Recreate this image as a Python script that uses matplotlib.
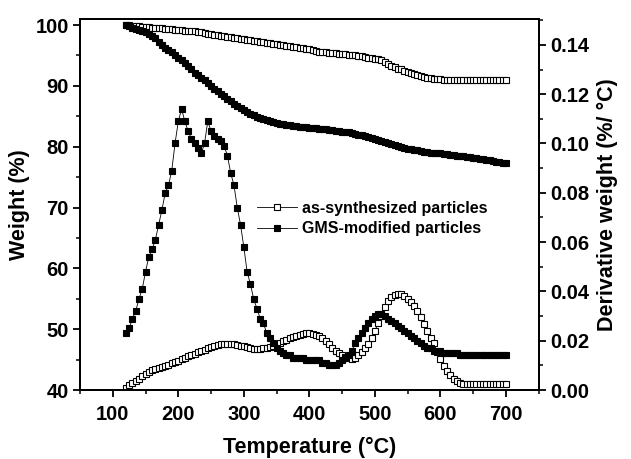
import numpy as np
import matplotlib.pyplot as plt
from matplotlib.lines import Line2D
from matplotlib.ticker import MultipleLocator

plt.rcParams['font.family'] = ['Liberation Sans', 'DejaVu Sans']
plt.rcParams['font.weight'] = 'bold'

# temperature grid (C), one point every 5 C
temps = np.arange(120, 701, 5)

# weight (%) - as-synthesized particles
tga_as = [
    100.0, 99.95, 99.9, 99.85, 99.8, 99.75, 99.7, 99.65, 99.6, 99.55,   # 120-165
    99.5, 99.45, 99.4, 99.35, 99.3, 99.25, 99.2, 99.15, 99.1, 99.05,    # 170-215
    99.0, 98.95, 98.9, 98.8, 98.7, 98.6, 98.5, 98.45, 98.35, 98.25,     # 220-265
    98.2, 98.1, 98.0, 97.9, 97.85, 97.75, 97.65, 97.6, 97.5, 97.4,      # 270-315
    97.35, 97.25, 97.2, 97.1, 97.0, 96.95, 96.85, 96.75, 96.7, 96.6,    # 320-365
    96.5, 96.45, 96.35, 96.3, 96.2, 96.1, 96.0, 95.9, 95.75, 95.65,     # 370-415
    95.55, 95.5, 95.45, 95.4, 95.35, 95.3, 95.25, 95.2, 95.15, 95.1,    # 420-465
    95.0, 94.95, 94.85, 94.75, 94.65, 94.55, 94.45, 94.35, 94.2, 93.9,  # 470-515
    93.6, 93.3, 93.05, 92.85, 92.7, 92.5, 92.3, 92.1, 91.95, 91.75,     # 520-565
    91.6, 91.45, 91.35, 91.25, 91.2, 91.15, 91.1, 91.05, 91.0, 91.0,    # 570-615
    91.0, 91.0, 90.95, 90.95, 90.95, 90.95, 90.95, 90.9, 90.9, 90.9,    # 620-665
    90.9, 90.9, 90.9, 90.9, 90.9, 90.9, 90.9,                           # 670-700
]

# weight (%) - GMS-modified particles
tga_gms = [
    100.0, 99.8, 99.6, 99.4, 99.2, 99.0, 98.8, 98.55, 98.2, 97.8,       # 120-165
    97.3, 96.8, 96.3, 95.9, 95.5, 95.05, 94.6, 94.2, 93.7, 93.2,        # 170-215
    92.7, 92.2, 91.8, 91.35, 90.9, 90.4, 90.0, 89.55, 89.1, 88.7,       # 220-265
    88.3, 87.9, 87.5, 87.1, 86.7, 86.3, 86.0, 85.7, 85.4, 85.15,        # 270-315
    84.9, 84.7, 84.5, 84.35, 84.2, 84.05, 83.9, 83.8, 83.7, 83.6,       # 320-365
    83.5, 83.45, 83.4, 83.3, 83.25, 83.2, 83.15, 83.1, 83.0, 82.95,     # 370-415
    82.9, 82.85, 82.8, 82.7, 82.65, 82.6, 82.5, 82.45, 82.35, 82.25,    # 420-465
    82.15, 82.0, 81.85, 81.7, 81.55, 81.4, 81.25, 81.1, 80.95, 80.8,    # 470-515
    80.6, 80.45, 80.3, 80.15, 80.0, 79.85, 79.7, 79.6, 79.5, 79.4,      # 520-565
    79.3, 79.2, 79.1, 79.05, 79.0, 78.95, 78.9, 78.8, 78.75, 78.65,     # 570-615
    78.6, 78.5, 78.45, 78.4, 78.3, 78.25, 78.2, 78.1, 78.0, 77.95,      # 620-665
    77.85, 77.75, 77.65, 77.55, 77.45, 77.4, 77.3,                      # 670-700
]

# derivative weight (%/C) - as-synthesized particles
dtg_as = [
    0.001, 0.002, 0.003, 0.0035, 0.0045, 0.0055, 0.0065, 0.0072, 0.008, 0.0085,     # 120-165
    0.009, 0.0093, 0.0098, 0.0103, 0.0108, 0.0113, 0.0118, 0.0124, 0.013, 0.0136,  # 170-215
    0.0142, 0.0148, 0.0153, 0.0159, 0.0164, 0.0169, 0.0175, 0.018, 0.0183, 0.0185, # 220-265
    0.0186, 0.0187, 0.0187, 0.0186, 0.0184, 0.018, 0.0177, 0.0173, 0.017, 0.0168,  # 270-315
    0.0168, 0.0168, 0.017, 0.0172, 0.0175, 0.018, 0.0186, 0.0192, 0.0198, 0.0204,  # 320-365
    0.021, 0.0215, 0.022, 0.0225, 0.0228, 0.023, 0.023, 0.0228, 0.0224, 0.0218,    # 370-415
    0.021, 0.0198, 0.0185, 0.0172, 0.016, 0.015, 0.014, 0.0133, 0.0128, 0.0127,    # 420-465
    0.013, 0.014, 0.0155, 0.0172, 0.0185, 0.021, 0.024, 0.027, 0.030, 0.0335,      # 470-515
    0.036, 0.0378, 0.0387, 0.039, 0.0389, 0.0382, 0.0371, 0.0357, 0.034, 0.032,    # 520-565
    0.0295, 0.0268, 0.024, 0.0212, 0.019, 0.0155, 0.0125, 0.0098, 0.0077, 0.006,   # 570-615
    0.0045, 0.0036, 0.003, 0.0026, 0.0024, 0.0024, 0.0024, 0.0024, 0.0023, 0.0023, # 620-665
    0.0023, 0.0023, 0.0023, 0.0023, 0.0023, 0.0023, 0.0023,                        # 670-700
]

# derivative weight (%/C) - GMS-modified particles
dtg_gms = [
    0.023, 0.025, 0.029, 0.032, 0.037, 0.041, 0.048, 0.054, 0.057, 0.061,  # 120-165
    0.067, 0.073, 0.080, 0.083, 0.089, 0.100, 0.109, 0.114, 0.109, 0.105,  # 170-215
    0.102, 0.100, 0.098, 0.096, 0.100, 0.109, 0.105, 0.103, 0.102, 0.101,  # 220-265
    0.099, 0.095, 0.088, 0.083, 0.074, 0.067, 0.058, 0.048, 0.043, 0.037,  # 270-315
    0.033, 0.029, 0.027, 0.023, 0.021, 0.019, 0.017, 0.016, 0.015, 0.014,  # 320-365
    0.014, 0.013, 0.013, 0.013, 0.013, 0.012, 0.012, 0.012, 0.012, 0.012,  # 370-415
    0.011, 0.011, 0.010, 0.010, 0.010, 0.011, 0.012, 0.013, 0.014, 0.016,  # 420-465
    0.019, 0.021, 0.023, 0.025, 0.027, 0.029, 0.030, 0.031, 0.031, 0.030,  # 470-515
    0.029, 0.028, 0.027, 0.026, 0.025, 0.024, 0.023, 0.022, 0.021, 0.020,  # 520-565
    0.019, 0.018, 0.017, 0.017, 0.016, 0.016, 0.016, 0.015, 0.015, 0.015,  # 570-615
    0.015, 0.015, 0.014, 0.014, 0.014, 0.014, 0.014, 0.014, 0.014, 0.014,  # 620-665
    0.014, 0.014, 0.014, 0.014, 0.014, 0.014, 0.014,                       # 670-700
]

fig = plt.figure(figsize=(6.31, 4.59), dpi=100)
ax = fig.add_axes([0.1268, 0.1503, 0.7269, 0.8083])
ax2 = ax.twinx()

ms = 5
hollow = dict(color='black', lw=0.6, marker='s', ms=ms, mfc='white', mec='black', mew=0.8)
filled = dict(color='black', lw=0.6, marker='s', ms=ms, mfc='black', mec='black', mew=0.8)

ax.plot(temps, tga_as, **hollow)
ax.plot(temps, tga_gms, **filled)
ax2.plot(temps, dtg_as, **hollow)
ax2.plot(temps, dtg_gms, **filled)

ax.set_xlim(50, 750)
ax.set_ylim(40, 101)
ax2.set_ylim(0, 0.1505)

ax.set_xticks(range(100, 701, 100))
ax.xaxis.set_minor_locator(MultipleLocator(50))
ax.set_yticks(range(40, 101, 10))
ax.yaxis.set_minor_locator(MultipleLocator(5))
ax2.set_yticks(np.arange(0, 0.141, 0.02))
ax2.yaxis.set_minor_locator(MultipleLocator(0.01))
ax2.set_yticklabels(['%.2f' % v for v in np.arange(0, 0.141, 0.02)])

for a in (ax, ax2):
    for s in a.spines.values():
        s.set_linewidth(1.4)
    a.tick_params(which='major', direction='out', length=5, width=1.3, labelsize=14.5, pad=3)
    a.tick_params(which='minor', direction='out', length=3, width=1.1)
ax.tick_params(axis='x', pad=6)

ax.set_xlabel('Temperature (°C)', fontsize=15.5, fontweight='bold', labelpad=9)
ax.set_ylabel('Weight (%)', fontsize=15.5, fontweight='bold', labelpad=4)
ax2.set_ylabel('Derivative weight (%/ °C)', fontsize=15.5, fontweight='bold', labelpad=6)

handles = [
    Line2D([], [], **hollow),
    Line2D([], [], **filled),
]
ax2.legend(handles, ['as-synthesized particles', 'GMS-modified particles'],
           loc='upper left', bbox_to_anchor=(0.385, 0.51), frameon=False,
           borderpad=0, borderaxespad=0,
           prop={'weight': 'bold', 'size': 11.5}, handlelength=2.5,
           handletextpad=0.35, labelspacing=0.35)

fig.savefig('out.png', dpi=100)
